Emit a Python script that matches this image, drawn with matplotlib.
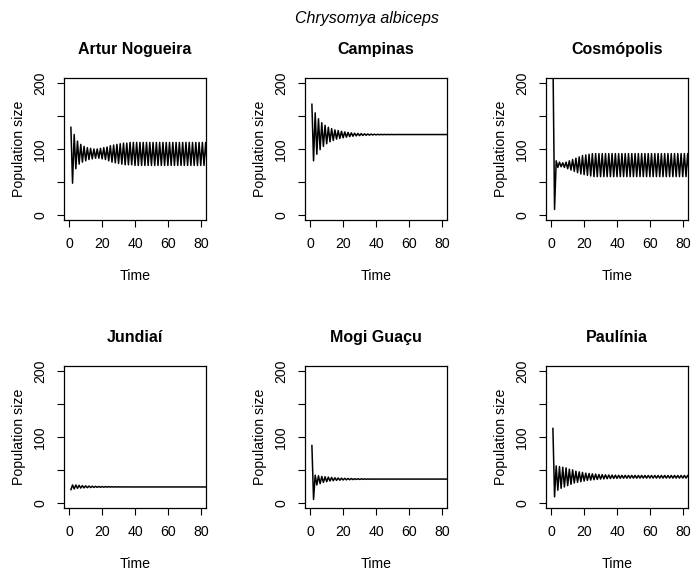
import matplotlib
matplotlib.use("Agg")
import matplotlib.pyplot as plt
import numpy as np

plt.rcParams['font.family'] = ['Liberation Sans', 'DejaVu Sans']

time = list(range(1, 85))

sites = ["Artur Nogueira", "Campinas", "Cosmópolis", "Jundiaí", "Mogi Guaçu", "Paulínia"]

artur = [133, 48, 122, 70, 112, 77, 107, 80, 104, 82,
         102, 84, 101, 85, 100, 86, 100, 86, 101, 85,
         102, 84, 103, 82, 105, 80, 106, 79, 107, 78,
         108, 77, 109, 76, 109, 76, 110, 76, 110, 75,
         110, 75, 110, 75, 110, 75, 110, 75, 110, 75,
         110, 75, 110, 75, 110, 75, 110, 75, 110, 75,
         110, 75, 110, 75, 110, 75, 110, 75, 110, 75,
         110, 75, 110, 75, 110, 75, 110, 75, 110, 75,
         110, 75, 110, 75]

campinas = [168, 82, 155, 92, 146, 99, 140, 104, 136, 108,
            133, 111, 131, 113, 129, 115, 128, 116, 127, 117,
            126, 118, 125.2, 118.8, 124.6, 119.4, 124.1, 119.9, 123.7, 120.3,
            123.4, 120.6, 123.1, 120.9, 122.9, 121.1, 122.7, 121.3, 122.5, 121.5,
            122.4, 121.6, 122.3, 121.7, 122.2, 121.8, 122.1, 121.9, 122.1, 121.9,
            122, 122, 122, 122, 122, 122, 122, 122, 122, 122,
            122, 122, 122, 122, 122, 122, 122, 122, 122, 122,
            122, 122, 122, 122, 122, 122, 122, 122, 122, 122,
            122, 122, 122, 122]

cosmopolis = [245, 8, 82, 72, 80, 73, 79, 72, 80, 70,
              82, 68, 84, 66, 86, 64, 88, 62, 90, 61,
              91, 60, 92, 59, 93, 58, 93, 58, 93, 58,
              93, 58, 93, 58, 93, 58, 93, 58, 93, 58,
              93, 58, 93, 58, 93, 58, 93, 58, 93, 58,
              93, 58, 93, 58, 93, 58, 93, 58, 93, 58,
              93, 58, 93, 58, 93, 58, 93, 58, 93, 58,
              93, 58, 93, 58, 93, 58, 93, 58, 93, 58,
              93, 58, 93, 58]

jundiai = [20, 27, 21, 27, 22, 26.5, 22.3, 26, 22.6, 25.7,
           22.9, 25.4, 23.1, 25.2, 23.3, 25, 23.4, 24.8, 23.5, 24.7,
           23.6, 24.6, 23.7, 24.5, 23.8, 24.4, 23.8, 24.3, 23.9, 24.2,
           23.9, 24.2, 24, 24.1, 24, 24.1, 24, 24, 24, 24,
           24, 24, 24, 24, 24, 24, 24, 24, 24, 24,
           24, 24, 24, 24, 24, 24, 24, 24, 24, 24,
           24, 24, 24, 24, 24, 24, 24, 24, 24, 24,
           24, 24, 24, 24, 24, 24, 24, 24, 24, 24,
           24, 24, 24, 24]

mogi = [87, 5, 42, 27, 41, 29, 40, 31, 39.5, 32,
        39, 33, 38.5, 33.5, 38, 34, 37.7, 34.3, 37.4, 34.6,
        37.2, 34.8, 37, 35, 36.8, 35.2, 36.6, 35.4, 36.5, 35.5,
        36.4, 35.6, 36.3, 35.7, 36.2, 35.8, 36.1, 35.9, 36, 36,
        36, 36, 36, 36, 36, 36, 36, 36, 36, 36,
        36, 36, 36, 36, 36, 36, 36, 36, 36, 36,
        36, 36, 36, 36, 36, 36, 36, 36, 36, 36,
        36, 36, 36, 36, 36, 36, 36, 36, 36, 36,
        36, 36, 36, 36]

paulinia = [113, 9, 56, 19, 55, 22, 54, 24, 53, 26,
            51, 28, 50, 30, 48, 31, 47, 32, 46, 33,
            45, 34, 44.5, 34.5, 44, 35, 43.5, 35.5, 43, 36,
            42.7, 36.3, 42.4, 36.6, 42.2, 36.8, 42, 37, 41.9, 37.1,
            41.8, 37.2, 41.7, 37.3, 41.7, 37.3, 41.6, 37.4, 41.6, 37.4,
            41.6, 37.4, 41.5, 37.5, 41.5, 37.5, 41.5, 37.5, 41.5, 37.5,
            41.5, 37.5, 41.5, 37.5, 41.5, 37.5, 41.5, 37.5, 41.5, 37.5,
            41.5, 37.5, 41.5, 37.5, 41.5, 37.5, 41.5, 37.5, 41.5, 37.5,
            41.5, 37.5, 41.5, 37.5]

series = [artur, campinas, cosmopolis, jundiai, mogi, paulinia]

W, H = 696, 572
fig = plt.figure(figsize=(W / 100, H / 100), dpi=100)

# box positions in pixels (left, top), all boxes 142 x 142
lefts = [64, 305, 546]
tops = [78, 366]
size = 142

for i, (name, vals) in enumerate(zip(sites, series)):
    x0 = lefts[i % 3]
    y0 = tops[i // 3]
    ax = fig.add_axes([x0 / W, 1 - (y0 + size) / H, size / W, size / H])
    ax.plot(time, vals, color="black", lw=1.1)
    ax.set_xlim(-3.2, 83.2)
    ax.set_ylim(-8, 208)
    ax.set_xticks([0, 20, 40, 60, 80])
    ax.set_yticks([0, 50, 100, 150, 200])
    ax.set_yticklabels(["0", "", "100", "", "200"], rotation=90, va="center")
    ax.tick_params(direction="out", length=5, width=0.8, labelsize=10.2, pad=7)
    for s in ax.spines.values():
        s.set_linewidth(0.9)
    ax.set_title(name, fontsize=11.5, fontweight="bold", pad=17)
    ax.set_xlabel("Time", fontsize=10.2, labelpad=13)
    ax.set_ylabel("Population size", fontsize=10.2, labelpad=5)

fig.text(367 / W, 1 - 19 / H, "Chrysomya albiceps", fontsize=11.5, style="italic",
         ha="center", va="center")

plt.savefig("out.png", dpi=100)
